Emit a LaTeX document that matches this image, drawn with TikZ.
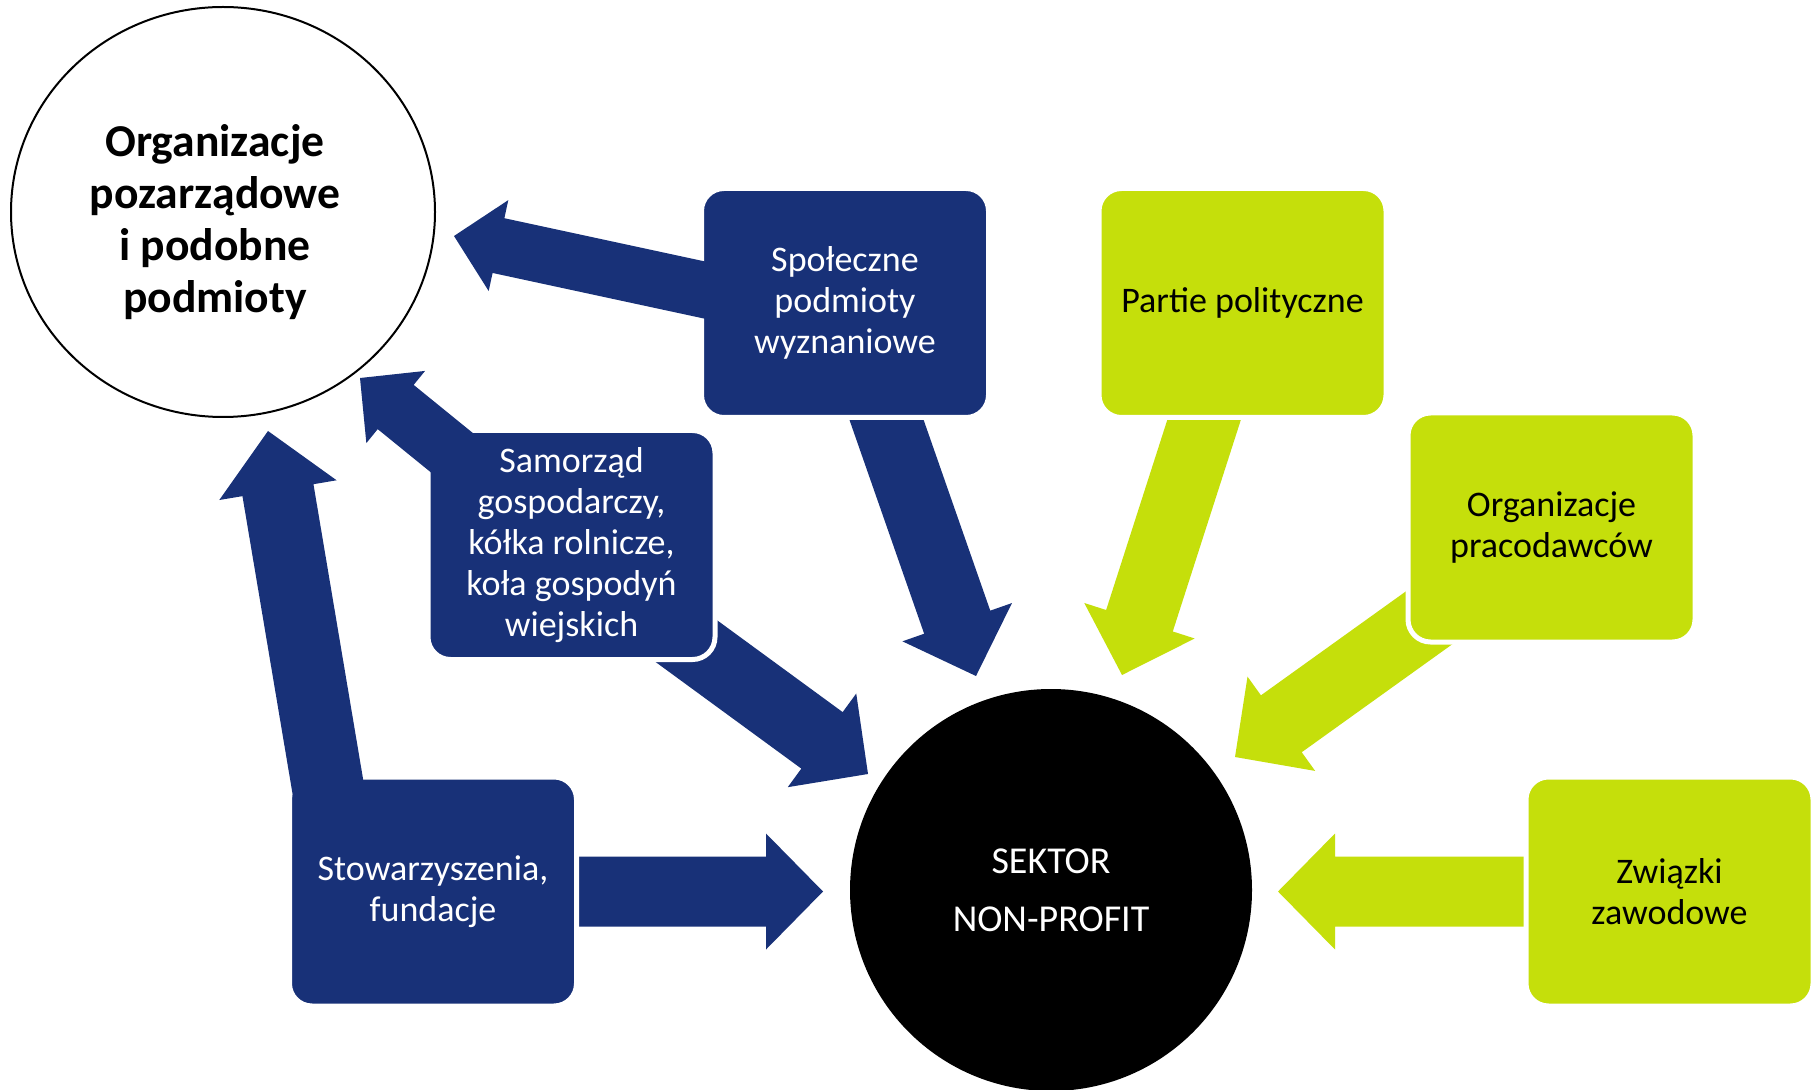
\documentclass[tikz,border=0pt]{standalone}
\usepackage{fontspec}
\setmainfont{Carlito}
\usetikzlibrary{calc,shapes.geometric}
\definecolor{navy}{RGB}{24,49,120}
\definecolor{lime}{RGB}{197,223,11}
% #1 tail, #2 tip, #3 half shaft width, #4 half head width, #5 head length, #6 colour
\newcommand\blockarrow[6]{%
  \coordinate (ba-h) at ($(#2)!#5!(#1)$);
  \fill[#6] ($(#1)!#3!90:(#2)$) -- ($(ba-h)!#3!90:(#2)$) -- ($(ba-h)!#4!90:(#2)$)
    -- (#2) -- ($(ba-h)!#4!-90:(#2)$) -- ($(ba-h)!#3!-90:(#2)$) -- ($(#1)!#3!-90:(#2)$) -- cycle;}
\tikzset{
  box/.style={rectangle, rounded corners=11.25pt, minimum width=143.5pt, minimum height=114.5pt,
    draw=white, line width=2.5pt, align=center, inner sep=0pt,
    font=\fontsize{18}{20.5}\selectfont},
  navybox/.style={box, fill=navy, text=white},
  limebox/.style={box, fill=lime, text=black},
}
\begin{document}
\begin{tikzpicture}[x=0.5pt,y=-0.5pt]
\fill[white] (0,0) rectangle (1818,1090);
\useasboundingbox (0,0) rectangle (1818,1090);
% arrows into the sector (behind the boxes)
\coordinate (a4s) at (450,891.5);  \coordinate (a4e) at (823,891.5);
\coordinate (a5s) at (626,597);    \coordinate (a5e) at (868,774);
\coordinate (a6s) at (867,364);    \coordinate (a6e) at (976,676);
\coordinate (a7s) at (1223,361);   \coordinate (a7e) at (1122,675);
\coordinate (a8s) at (1479,582);   \coordinate (a8e) at (1235,757);
\coordinate (a9s) at (1600,891.5); \coordinate (a9e) at (1278,891.5);
\blockarrow{a4s}{a4e}{17.5pt}{29pt}{28.5pt}{navy}
\blockarrow{a5s}{a5e}{17.5pt}{29pt}{28.5pt}{navy}
\blockarrow{a6s}{a6e}{17.5pt}{29pt}{28.5pt}{navy}
\blockarrow{a7s}{a7e}{17.5pt}{29pt}{28.5pt}{lime}
\blockarrow{a8s}{a8e}{17.5pt}{29pt}{28.5pt}{lime}
\blockarrow{a9s}{a9e}{17.5pt}{29pt}{28.5pt}{lime}
% boxes
\node[navybox] (spol) at (845,303) {Społeczne\\podmioty\\wyznaniowe};
\node[navybox] (sam) at (571.5,545) {Samorząd\\gospodarczy,\\kółka rolnicze,\\koła gospodyń\\wiejskich};
\node[navybox] (stow) at (433,891.5) {Stowarzyszenia,\\fundacje};
\node[limebox] (part) at (1242.5,303) {Partie polityczne};
\node[limebox] (orgp) at (1551.5,527.5) {Organizacje\\pracodawców};
\node[limebox] (zw) at (1669.5,891.5) {Związki\\zawodowe};
% sector
\node[circle, fill=black, minimum size=201pt, inner sep=0pt, text=white, align=center,
  font=\fontsize{19}{29}\selectfont] (np) at (1051,890) {SEKTOR\\NON-PROFIT};
% NGO ellipse
\node[ellipse, draw=black, line width=1pt, fill=white, minimum width=212pt, minimum height=205pt,
  inner sep=0pt] (ngo) at (223,212) {};
% arrows towards the NGO ellipse (over the boxes)
\coordinate (a1s) at (723,294);    \coordinate (a1e) at (454,236);
\coordinate (a2s) at (467,465);    \coordinate (a2e) at (360,378);
\coordinate (a3s) at (338.5,850);  \coordinate (a3e) at (268,431);
\blockarrow{a1s}{a1e}{14pt}{23.25pt}{22.75pt}{navy}
\blockarrow{a2s}{a2e}{14.25pt}{23.25pt}{23pt}{navy}
\blockarrow{a3s}{a3e}{18pt}{29.75pt}{30pt}{navy}
\node[align=center, font=\bfseries\fontsize{22.8}{26}\selectfont] (ngot) at (215,222)
  {Organizacje\\pozarządowe\\i podobne\\podmioty};
\end{tikzpicture}
\end{document}
